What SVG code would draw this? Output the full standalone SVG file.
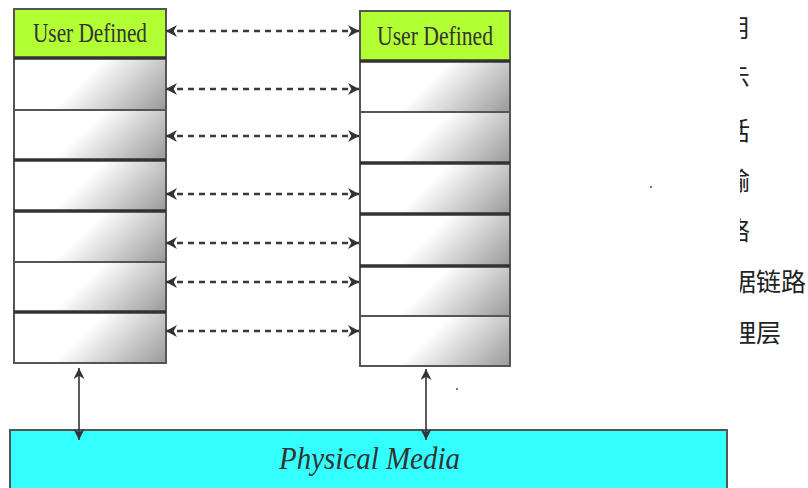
<svg xmlns="http://www.w3.org/2000/svg" width="808" height="488" viewBox="0 0 808 488">
<style>
.box{stroke:#555;stroke-width:2;fill:url(#g)}
.ud{stroke:#555;stroke-width:2;fill:#b2ff33}
.thick{stroke:#333;stroke-width:3.5}
.lbl{font-family:"Liberation Serif",serif;font-size:28px;fill:#333}
.dash{stroke:#3a3a3a;stroke-width:2.4;stroke-dasharray:6 5;fill:none;marker-start:url(#ah);marker-end:url(#ah)}
.solid{stroke:#333;stroke-width:1.6;fill:none;marker-start:url(#ah2);marker-end:url(#ah2)}
.cn{font-family:"Noto Sans CJK SC",sans-serif;font-size:25px;fill:#222;text-anchor:end}
</style>
<defs>
<linearGradient id="g" x1="0.6" y1="0" x2="1.25" y2="0.2275">
<stop offset="0" stop-color="#ffffff"/>
<stop offset="1" stop-color="#9c9c9c"/>
</linearGradient>
<marker id="ah" viewBox="0 0 10 10" refX="10" refY="5" markerWidth="11" markerHeight="12" preserveAspectRatio="none" markerUnits="userSpaceOnUse" orient="auto-start-reverse">
<path d="M0,0 L10,5 L0,10 L3,5 z" fill="#333"/>
</marker>
<marker id="ah2" viewBox="0 0 10 10" refX="10" refY="5" markerWidth="11" markerHeight="11" markerUnits="userSpaceOnUse" orient="auto-start-reverse">
<path d="M0,0 L10,5 L0,10 L3,5 z" fill="#333"/>
</marker>
<clipPath id="cp"><rect x="740" y="0" width="68" height="488"/></clipPath>
</defs>

<g id="left-stack">
<rect class="ud" x="14" y="9" width="152" height="49"/>
<text class="lbl" x="33" y="42" textLength="114" lengthAdjust="spacingAndGlyphs">User Defined</text>
<rect class="box" x="14" y="58" width="152" height="52"/>
<rect class="box" x="14" y="110" width="152" height="50"/>
<rect class="box" x="14" y="160" width="152" height="51"/>
<rect class="box" x="14" y="211" width="152" height="51"/>
<rect class="box" x="14" y="262" width="152" height="50"/>
<rect class="box" x="14" y="312" width="152" height="51"/>
<line class="thick" x1="14" y1="58" x2="166" y2="58"/>
<line class="thick" x1="14" y1="160" x2="166" y2="160"/>
<line class="thick" x1="14" y1="211" x2="166" y2="211"/>
<line class="thick" x1="14" y1="312" x2="166" y2="312"/>
</g>

<g id="right-stack">
<rect class="ud" x="360" y="11" width="150" height="50"/>
<text class="lbl" x="377" y="45" textLength="116" lengthAdjust="spacingAndGlyphs">User Defined</text>
<rect class="box" x="360" y="61" width="150" height="51"/>
<rect class="box" x="360" y="112" width="150" height="51"/>
<rect class="box" x="360" y="163" width="150" height="51"/>
<rect class="box" x="360" y="214" width="150" height="52"/>
<rect class="box" x="360" y="266" width="150" height="50"/>
<rect class="box" x="360" y="316" width="150" height="50"/>
<line class="thick" x1="360" y1="61" x2="510" y2="61"/>
<line class="thick" x1="360" y1="163" x2="510" y2="163"/>
<line class="thick" x1="360" y1="214" x2="510" y2="214"/>
<line class="thick" x1="360" y1="266" x2="510" y2="266"/>
</g>

<g id="physical-media">
<rect x="10" y="430" width="717" height="62" fill="#33ffff" stroke="#555" stroke-width="2"/>
<text x="279" y="469" textLength="181" lengthAdjust="spacingAndGlyphs" style="font-family:'Liberation Serif',serif;font-style:italic;font-size:32px;fill:#333">Physical Media</text>
</g>

<g id="connectors">
<line class="dash" x1="166" y1="31" x2="359" y2="31"/>
<line class="dash" x1="166" y1="89" x2="359" y2="89"/>
<line class="dash" x1="166" y1="136" x2="359" y2="136"/>
<line class="dash" x1="166" y1="194" x2="359" y2="194"/>
<line class="dash" x1="166" y1="243" x2="359" y2="243"/>
<line class="dash" x1="166" y1="282" x2="359" y2="282"/>
<line class="dash" x1="166" y1="331" x2="359" y2="331"/>
<line class="solid" x1="79" y1="368" x2="79" y2="440"/>
<line class="solid" x1="426" y1="369" x2="426" y2="440"/>
</g>

<g id="layer-names" clip-path="url(#cp)">
<text class="cn" x="750" y="37">应用</text>
<text class="cn" x="750" y="87">表示</text>
<text class="cn" x="750" y="140">会话</text>
<text class="cn" x="750" y="190">传输</text>
<text class="cn" x="750" y="240">网络</text>
<text class="cn" x="806" y="291">数据链路</text>
<text class="cn" x="781" y="342">物理层</text>
</g>

<g id="specks" fill="#777">
<rect x="650" y="186" width="2" height="2"/>
<rect x="456" y="388" width="2" height="2"/>
</g>
</svg>
